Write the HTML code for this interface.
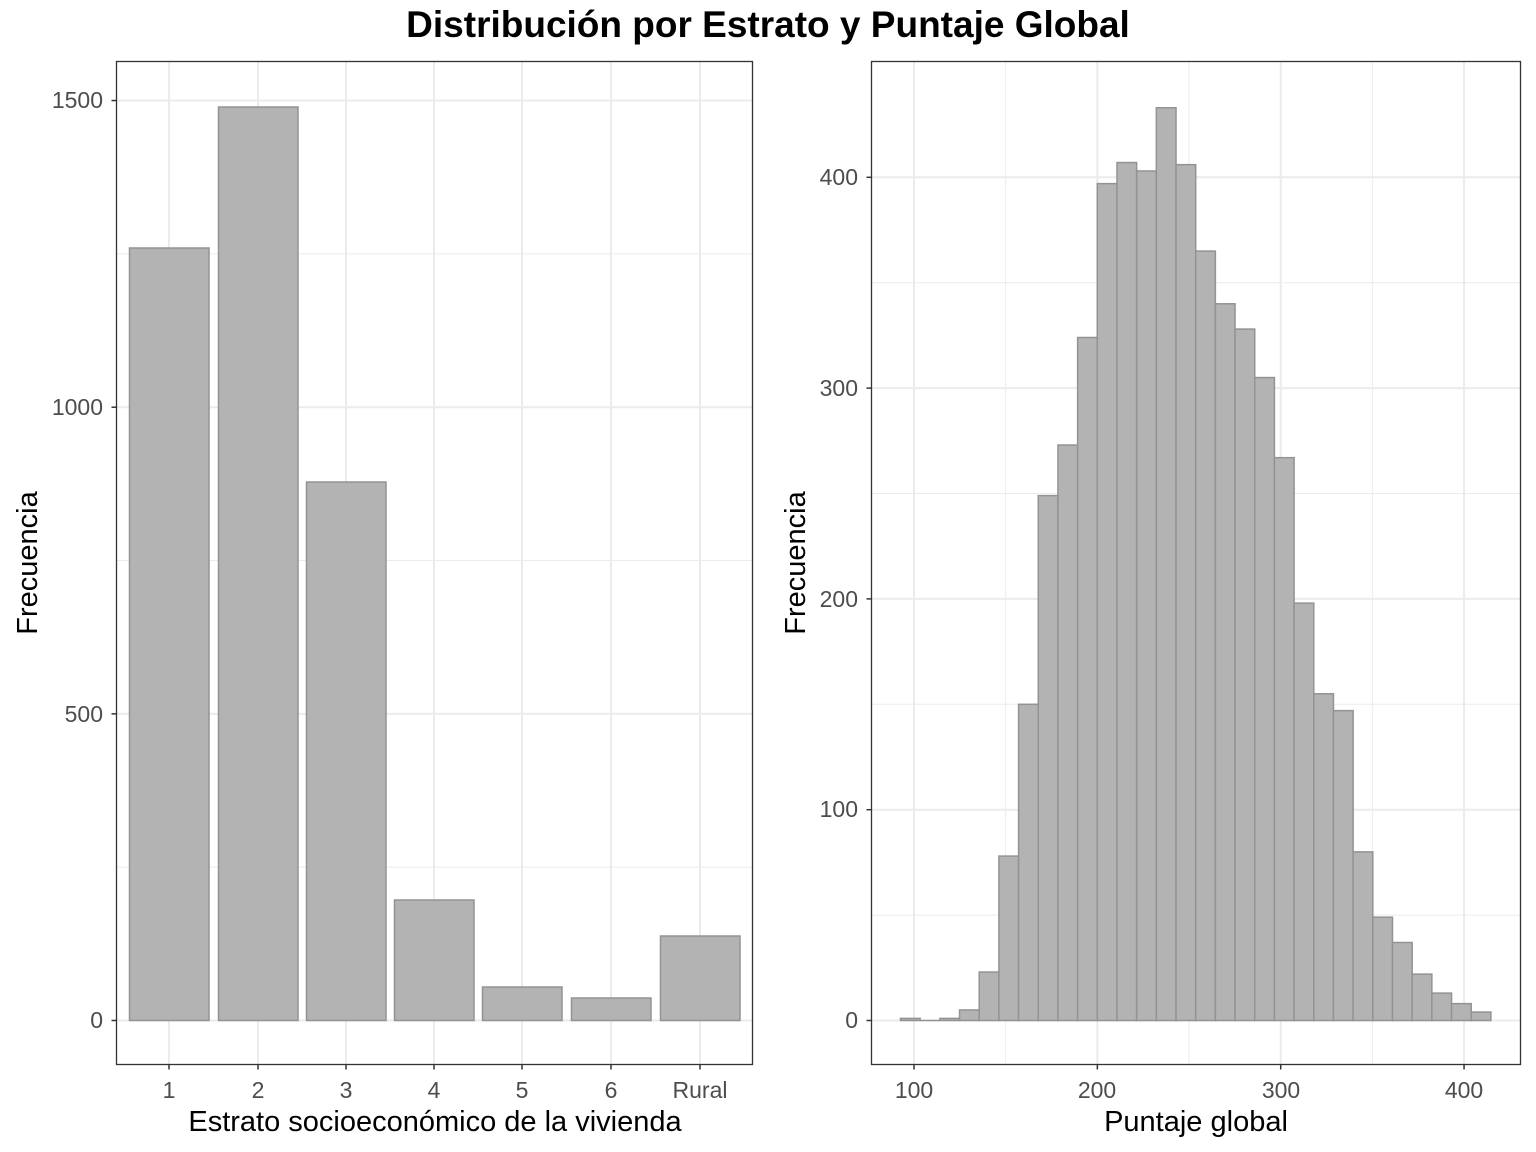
<!DOCTYPE html>
<html><head><meta charset="utf-8"><style>
html,body{margin:0;padding:0;background:#fff}
svg{display:block;font-family:"Liberation Sans",Arial,sans-serif}
.t{fill:#4d4d4d;font-size:23px}
.l{fill:#000;font-size:29px}
</style></head><body>
<svg id="s" width="1536" height="1152" viewBox="0 0 1536 1152" xmlns="http://www.w3.org/2000/svg">
<rect width="1536" height="1152" fill="#fff"/>
<text x="768" y="37" text-anchor="middle" font-size="37" font-weight="bold">Distribución por Estrato y Puntaje Global</text>
<g id="g1"></g>
<g id="g2"></g>
<g class="t" text-anchor="end">
<text x="103" y="108">1500</text><text x="103" y="415">1000</text><text x="103" y="722">500</text><text x="103" y="1028">0</text>
</g>
<g class="t" text-anchor="middle">
<text x="169" y="1098">1</text><text x="258" y="1098">2</text><text x="346" y="1098">3</text><text x="434" y="1098">4</text><text x="522" y="1098">5</text><text x="611" y="1098">6</text><text x="700" y="1098">Rural</text>
</g>
<text class="l" x="435" y="1131" text-anchor="middle">Estrato socioeconómico de la vivienda</text>
<text class="l" transform="translate(37,563) rotate(-90)" text-anchor="middle">Frecuencia</text>
<g class="t" text-anchor="end">
<text x="858" y="185">400</text><text x="858" y="396">300</text><text x="858" y="607">200</text><text x="858" y="817">100</text><text x="858" y="1028">0</text>
</g>
<g class="t" text-anchor="middle">
<text x="914" y="1098">100</text><text x="1097" y="1098">200</text><text x="1281" y="1098">300</text><text x="1464" y="1098">400</text>
</g>
<text class="l" x="1196" y="1131" text-anchor="middle">Puntaje global</text>
<text class="l" transform="translate(805,563) rotate(-90)" text-anchor="middle">Frecuencia</text>
</svg>
<script>
var NS="http://www.w3.org/2000/svg";
function el(p,n,a){var e=document.createElementNS(NS,n);for(var k in a)e.setAttribute(k,a[k]);p.appendChild(e);return e;}
var g1=document.getElementById('g1'),g2=document.getElementById('g2');
var L=116.5,R=752.5,T=61.5,B=1064.5;
function y1(v){return 1020.5-v*0.6133;}
[250,750,1250].forEach(function(v){el(g1,'line',{x1:L,x2:R,y1:y1(v),y2:y1(v),stroke:'#ebebeb','stroke-width':1});});
[0,500,1000,1500].forEach(function(v){el(g1,'line',{x1:L,x2:R,y1:y1(v),y2:y1(v),stroke:'#ebebeb','stroke-width':2});});
var cx=[169,258,346,434,522,611,700];
cx.forEach(function(x){el(g1,'line',{x1:x,x2:x,y1:T,y2:B,stroke:'#ebebeb','stroke-width':2});});
var tops=[248,107,482,900,987,998,936];
cx.forEach(function(x,i){el(g1,'rect',{x:x-39.5,y:tops[i],width:79.5,height:1020.5-tops[i],fill:'#b3b3b3',stroke:'#939393','stroke-width':1.5});});
el(g1,'rect',{x:L,y:T,width:R-L,height:B-T,fill:'none',stroke:'#333','stroke-width':1.3});
[0,500,1000,1500].forEach(function(v){el(g1,'line',{x1:L-5,x2:L,y1:y1(v),y2:y1(v),stroke:'#333','stroke-width':1.5});});
cx.forEach(function(x){el(g1,'line',{x1:x,x2:x,y1:B,y2:B+5,stroke:'#333','stroke-width':1.5});});
var L2=871.5,R2=1520.5;
function y2(v){return 1020.5-v*2.108;}
function x2(v){return 914+(v-100)*1.8335;}
[50,150,250,350].forEach(function(v){el(g2,'line',{x1:L2,x2:R2,y1:y2(v),y2:y2(v),stroke:'#ebebeb','stroke-width':1});});
[150,250,350].forEach(function(v){el(g2,'line',{x1:x2(v),x2:x2(v),y1:T,y2:B,stroke:'#ebebeb','stroke-width':1});});
[0,100,200,300,400].forEach(function(v){el(g2,'line',{x1:L2,x2:R2,y1:y2(v),y2:y2(v),stroke:'#ebebeb','stroke-width':2});});
[100,200,300,400].forEach(function(v){el(g2,'line',{x1:x2(v),x2:x2(v),y1:T,y2:B,stroke:'#ebebeb','stroke-width':2});});
var h=[1,0,1,5,23,78,150,249,273,324,397,407,403,433,406,365,340,328,305,267,198,155,147,80,49,37,22,13,8,4];
var w=19.68;
h.forEach(function(v,i){var x=900.5+i*w;
 if(v==0){el(g2,'line',{x1:x,x2:x+w,y1:1020.5,y2:1020.5,stroke:'#939393','stroke-width':1.5});}
 else el(g2,'rect',{x:x,y:y2(v),width:w,height:v*2.108,fill:'#b3b3b3',stroke:'#939393','stroke-width':1.5});});
el(g2,'rect',{x:L2,y:T,width:R2-L2,height:B-T,fill:'none',stroke:'#333','stroke-width':1.3});
[0,100,200,300,400].forEach(function(v){el(g2,'line',{x1:L2-5,x2:L2,y1:y2(v),y2:y2(v),stroke:'#333','stroke-width':1.5});});
[100,200,300,400].forEach(function(v){el(g2,'line',{x1:x2(v),x2:x2(v),y1:B,y2:B+5,stroke:'#333','stroke-width':1.5});});
</script>
</body></html>
